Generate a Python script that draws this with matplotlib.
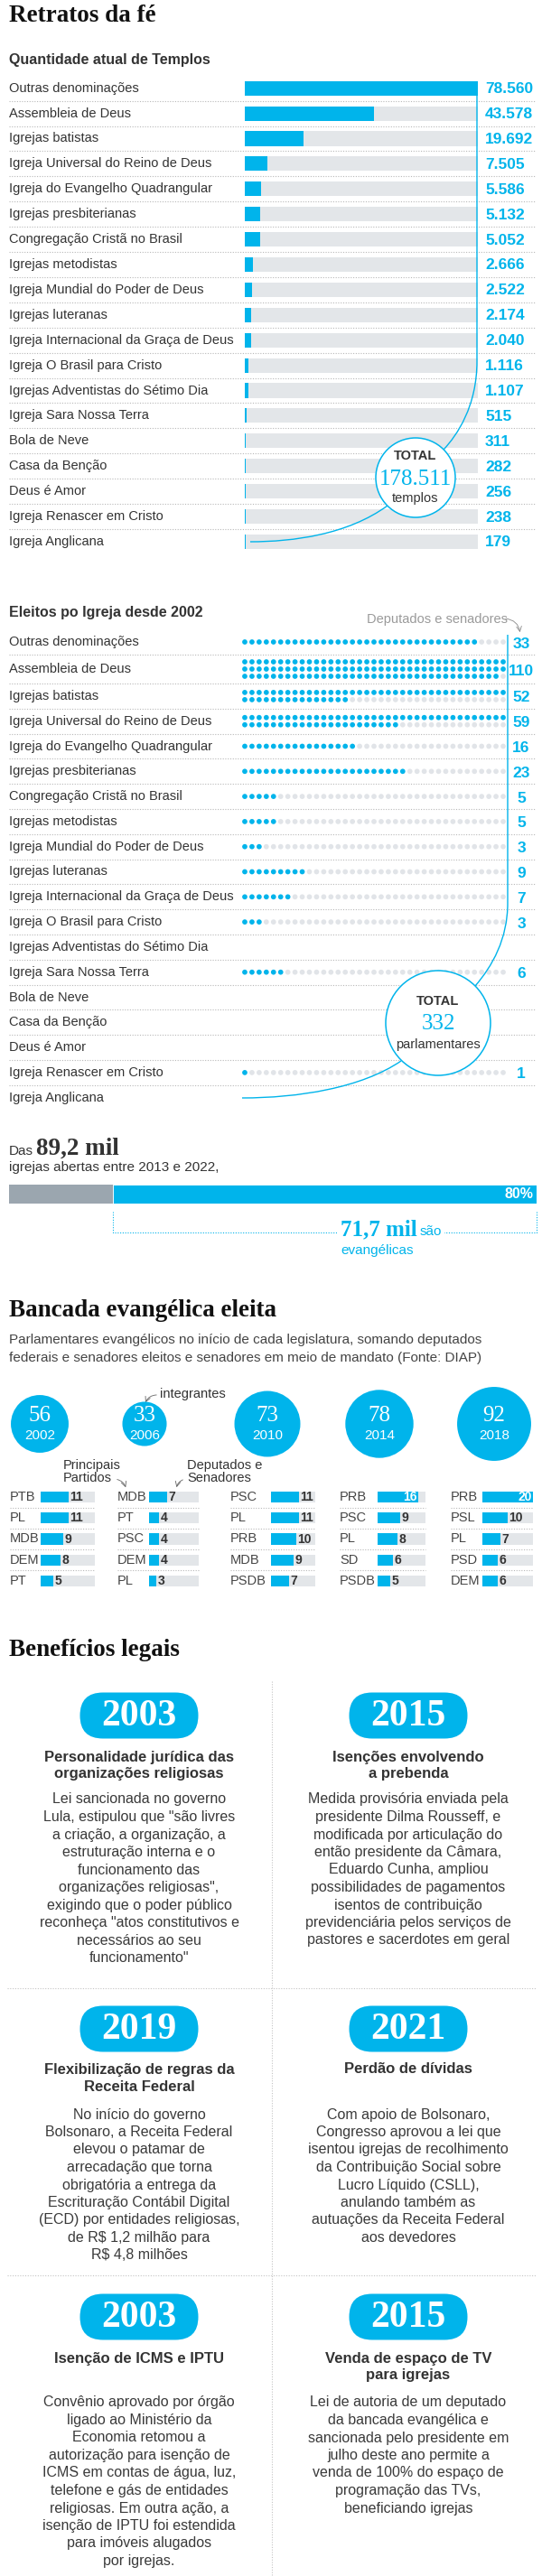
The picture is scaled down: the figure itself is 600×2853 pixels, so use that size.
import numpy as np
import matplotlib
matplotlib.use('agg')
import matplotlib.pyplot as plt
from matplotlib import transforms
from matplotlib.patches import Circle, FancyBboxPatch, PathPatch
from matplotlib.path import Path

# dados
igrejas = ['Outras denominações', 'Assembleia de Deus', 'Igrejas batistas',
           'Igreja Universal do Reino de Deus', 'Igreja do Evangelho Quadrangular',
           'Igrejas presbiterianas', 'Congregação Cristã no Brasil', 'Igrejas metodistas',
           'Igreja Mundial do Poder de Deus', 'Igrejas luteranas',
           'Igreja Internacional da Graça de Deus', 'Igreja O Brasil para Cristo',
           'Igrejas Adventistas do Sétimo Dia', 'Igreja Sara Nossa Terra', 'Bola de Neve',
           'Casa da Benção', 'Deus é Amor', 'Igreja Renascer em Cristo', 'Igreja Anglicana']
templos = [78560, 43578, 19692, 7505, 5586, 5132, 5052, 2666, 2522, 2174, 2040,
           1116, 1107, 515, 311, 282, 256, 238, 179]
eleitos = [33, 110, 52, 59, 16, 23, 5, 5, 3, 9, 7, 3, 0, 6, 0, 0, 0, 1, 0]

abertas_mil = 89.2
evangelicas_mil = 71.7

anos = ['2002', '2006', '2010', '2014', '2018']
bancada = [56, 33, 73, 78, 92]
partidos = [['PTB', 'PL', 'MDB', 'DEM', 'PT'],
            ['MDB', 'PT', 'PSC', 'DEM', 'PL'],
            ['PSC', 'PL', 'PRB', 'MDB', 'PSDB'],
            ['PRB', 'PSC', 'PL', 'SD', 'PSDB'],
            ['PRB', 'PSL', 'PL', 'PSD', 'DEM']]
cadeiras = [[11, 11, 9, 8, 5],
            [7, 4, 4, 4, 3],
            [11, 11, 10, 9, 7],
            [16, 9, 8, 6, 5],
            [20, 10, 7, 6, 6]]

ben_anos = ['2003', '2015', '2019', '2021', '2003', '2015']
ben_titulos = ['Personalidade jurídica das\norganizações religiosas',
               'Isenções envolvendo\na prebenda',
               'Flexibilização de regras da\nReceita Federal',
               'Perdão de dívidas',
               'Isenção de ICMS e IPTU',
               'Venda de espaço de TV\npara igrejas']
ben_textos = [
    'Lei sancionada no governo\nLula, estipulou que "são livres\na criação, a organização, a\n'
    'estruturação interna e o\nfuncionamento das\norganizações religiosas",\n'
    'exigindo que o poder público\nreconheça "atos constitutivos e\nnecessários ao seu\nfuncionamento"',
    'Medida provisória enviada pela\npresidente Dilma Rousseff, e\nmodificada por articulação do\n'
    'então presidente da Câmara,\nEduardo Cunha, ampliou\npossibilidades de pagamentos\n'
    'isentos de contribuição\nprevidenciária pelos serviços de\npastores e sacerdotes em geral',
    'No início do governo\nBolsonaro, a Receita Federal\nelevou o patamar de\narrecadação que torna\n'
    'obrigatória a entrega da\nEscrituração Contábil Digital\n(ECD) por entidades religiosas,\n'
    'de R$ 1,2 milhão para\nR$ 4,8 milhões',
    'Com apoio de Bolsonaro,\nCongresso aprovou a lei que\nisentou igrejas de recolhimento\n'
    'da Contribuição Social sobre\nLucro Líquido (CSLL),\nanulando também as\n'
    'autuações da Receita Federal\naos devedores',
    'Convênio aprovado por órgão\nligado ao Ministério da\nEconomia retomou a\n'
    'autorização para isenção de\nICMS em contas de água, luz,\ntelefone e gás de entidades\n'
    'religiosas. Em outra ação, a\nisenção de IPTU foi estendida\npara imóveis alugados\npor igrejas.',
    'Lei de autoria de um deputado\nda bancada evangélica e\nsancionada pelo presidente em\n'
    'julho deste ano permite a\nvenda de 100% do espaço de\nprogramação das TVs,\nbeneficiando igrejas',
]

W, H = 600, 2853
BLUE = '#00b4eb'
GREY = '#e3e6e9'
DARK = '#333333'
SANS = ['Liberation Sans', 'DejaVu Sans']
SERIF = ['Liberation Serif', 'DejaVu Serif']
plt.rcParams['font.family'] = SANS

fig = plt.figure(figsize=(W / 100, H / 100), dpi=100)
fig.patch.set_facecolor('white')


def px_axes(x0, y0, x1, y1, z=1):
    ax = fig.add_axes([x0 / W, 1 - y1 / H, (x1 - x0) / W, (y1 - y0) / H], zorder=z)
    ax.set_axis_off()
    ax.patch.set_alpha(0)
    return ax


ov = px_axes(0, 0, W, H, z=5)
ov.set_xlim(0, W)
ov.set_ylim(H, 0)
rend = fig.canvas.get_renderer()


def fmt(v):
    return f'{v:,}'.replace(',', '.')


def dotted(x0, x1, y, color='#b8b8b8'):
    ov.plot([x0, x1], [y, y], color=color, lw=0.8, ls=(0, (1, 1.5)))


def curve(pts):
    codes = [Path.MOVETO] + [Path.LINETO] * (len(pts) - 4) + [Path.CURVE4] * 3
    ov.add_patch(PathPatch(Path(pts, codes), fill=False, ec=BLUE, lw=1.0, zorder=6))


def right_of(t):
    return t.get_window_extent(renderer=rend).x1


# ---------- Retratos da fé ----------
ov.text(10, 18, 'Retratos da fé', family=SERIF, weight='bold', fontsize=19.5,
        va='center', color='#111111')
ov.text(10, 67, 'Quantidade atual de Templos', weight='bold', fontsize=11.5,
        va='center', color=DARK)

n = len(igrejas)
t_top, t_row = 83.75, 27.9
ax1 = px_axes(271, t_top, 529, t_top + n * t_row)
ax1.set_xlim(0, max(templos))
ax1.set_ylim(n - 0.5, -0.5)
ypos = np.arange(n)
ax1.barh(ypos, [max(templos)] * n, height=0.58, color=GREY)
ax1.barh(ypos, templos, height=0.58, color=BLUE)
for i, (nome, v) in enumerate(zip(igrejas, templos)):
    yc = t_top + (i + 0.5) * t_row
    ov.text(10, yc, nome, fontsize=10.5, va='center', color=DARK)
    ov.text(537, yc + 1, fmt(v), fontsize=12.5, weight='bold', color=BLUE, va='center')
    if i < n - 1:
        dotted(10, 592, t_top + (i + 1) * t_row)

cx, cy, r = 460, 529, 44
curve([(528, t_top + 0.5 * t_row + 8), (528, 400), (528, 450), (506, 482), (491, 498)])
curve([(429, 560), (385, 592), (325, 600), (277, 600)])
ov.add_patch(Circle((cx, cy), r, fc='white', ec=BLUE, lw=1.1, zorder=7))
ov.text(cx, cy - 24, 'TOTAL', weight='bold', fontsize=10.5, ha='center', va='center', color=DARK, zorder=8)
ov.text(cx, cy + 2, fmt(sum(templos)), family=SERIF, fontsize=18, ha='center', va='center',
        color=BLUE, zorder=8)
ov.text(cx, cy + 23, 'templos', fontsize=10.5, ha='center', va='center', color=DARK, zorder=8)

# ---------- Eleitos por igreja ----------
ov.text(10, 678, 'Eleitos po Igreja desde 2002', weight='bold', fontsize=11.5,
        va='center', color=DARK)
ov.text(406, 686, 'Deputados e senadores', fontsize=10.5, va='center', color='#9a9a9a')
ov.annotate('', xy=(576, 703), xytext=(557, 685),
            arrowprops=dict(arrowstyle='->', color='#888888', lw=0.6,
                            connectionstyle='arc3,rad=-0.45'))

COLS = 37
alturas = np.array([28, 32] + [27.8] * (n - 2))
topos = 697 + np.concatenate([[0], np.cumsum(alturas)])
centros = topos[:-1] + alturas / 2
ax2 = px_axes(267, topos[0], 561, topos[-1])
ax2.set_xlim(-0.5, COLS - 0.5)
ax2.set_ylim(topos[-1], topos[0])
xs = np.arange(COLS)
for i, v in enumerate(eleitos):
    if v == 0:
        continue
    linhas = int(np.ceil(v / COLS))
    for k in range(linhas):
        yk = centros[i] + (k - (linhas - 1) / 2) * 8
        cheios = min(COLS, v - k * COLS)
        cores = [BLUE if j < cheios else '#e1e4e8' for j in xs]
        ax2.scatter(xs, [yk] * COLS, s=17, c=cores, linewidths=0)

for i, nome in enumerate(igrejas):
    ov.text(10, centros[i], nome, fontsize=10.5, va='center', color=DARK)
    if eleitos[i]:
        ov.text(577, centros[i] + 2, str(eleitos[i]), fontsize=12.5, weight='bold',
                ha='center', va='center', color=BLUE)
    if i < n - 1:
        dotted(10, 592, topos[i + 1])

cx, cy, r = 485, 1133, 58
curve([(562, 703), (562, 1000), (562, 1040), (545, 1070), (526, 1092)])
curve([(444, 1175), (400, 1205), (330, 1216), (268, 1216)])
ov.add_patch(Circle((cx, cy), r, fc='white', ec=BLUE, lw=1.1, zorder=7))
ov.text(cx, cy - 24, 'TOTAL', weight='bold', fontsize=10.5, ha='center', va='center', color=DARK, zorder=8)
ov.text(cx, cy + 1, str(sum(eleitos)), family=SERIF, fontsize=18, ha='center', va='center',
        color=BLUE, zorder=8)
ov.text(cx, cy + 24, 'parlamentares', fontsize=10.5, ha='center', va='center', color=DARK, zorder=8)

# ---------- Igrejas abertas ----------
t = ov.text(10, 1279, 'Das', fontsize=11, va='baseline', color=DARK)
ov.text(right_of(t) + 3, 1279, f'{abertas_mil:.1f} mil'.replace('.', ','), family=SERIF,
        weight='bold', fontsize=19.5, va='baseline', color=DARK)
ov.text(10, 1297, 'igrejas abertas entre 2013 e 2022,', fontsize=11, va='baseline', color=DARK)

ax3 = px_axes(10, 1312, 594, 1333)
ax3.set_xlim(0, abertas_mil)
ax3.set_ylim(-0.5, 0.5)
outras = abertas_mil - evangelicas_mil
ax3.barh(0, outras, height=1, color='#9ba6af')
ax3.barh(0, evangelicas_mil, left=outras, height=1, color=BLUE, edgecolor='white', linewidth=0.6)
ax3.text(abertas_mil - 0.6, 0, f'{evangelicas_mil / abertas_mil:.0%}', ha='right', va='center',
         weight='bold', fontsize=11.5, color='white')
br = transforms.blended_transform_factory(ax3.transData, ov.transData)
ov.plot([outras, outras, abertas_mil, abertas_mil], [1342, 1365, 1365, 1342], transform=br,
        color=BLUE, lw=0.8, ls=(0, (1, 1.5)), clip_on=False)
t = ov.text(377, 1362, f'{evangelicas_mil:.1f} mil'.replace('.', ','), family=SERIF,
            weight='bold', fontsize=18, va='baseline', color=BLUE,
            bbox=dict(fc='white', ec='none', pad=3), zorder=8)
t.set_va('center')
ov.text(right_of(t) + 3, 1364, 'são', fontsize=11, va='center', color=BLUE,
        bbox=dict(fc='white', ec='none', pad=2), zorder=8)
ov.text(377, 1385, 'evangélicas', fontsize=11, va='center', color=BLUE)

# ---------- Bancada evangélica ----------
ov.text(10, 1452, 'Bancada evangélica eleita', family=SERIF, weight='bold', fontsize=19.5,
        va='center', color='#111111')
ov.text(10, 1484, 'Parlamentares evangélicos no início de cada legislatura, somando deputados',
        fontsize=11, va='center', color='#444444')
ov.text(10, 1504, 'federais e senadores eleitos e senadores em meio de mandato (Fonte: DIAP)',
        fontsize=11, va='center', color='#444444')

circ_x = [44, 160, 296, 420, 547]
ov.scatter(circ_x, [1577] * 5, s=37.8 * np.array(bancada), color=BLUE, linewidths=0, zorder=6)
for x, v, a in zip(circ_x, bancada, anos):
    ov.text(x, 1568, str(v), family=SERIF, fontsize=18, ha='center', va='center',
            color='white', zorder=7)
    ov.text(x, 1590, a, fontsize=11, ha='center', va='center', color='white', zorder=7)
ov.text(177, 1544, 'integrantes', fontsize=10.5, va='center', color=DARK)
ov.annotate('', xy=(160, 1556), xytext=(176, 1545),
            arrowprops=dict(arrowstyle='->', color='#666666', lw=0.6,
                            connectionstyle='arc3,rad=0.4'))
ov.text(70, 1630, 'Principais\nPartidos', fontsize=10.5, va='center', color=DARK, linespacing=1.0)
ov.annotate('', xy=(140, 1650), xytext=(127, 1638),
            arrowprops=dict(arrowstyle='->', color='#666666', lw=0.6,
                            connectionstyle='arc3,rad=-0.35'))
ov.text(207, 1630, 'Deputados e\nSenadores', fontsize=10.5, va='center', color=DARK, linespacing=1.0)
ov.annotate('', xy=(195, 1650), xytext=(205, 1638),
            arrowprops=dict(arrowstyle='->', color='#666666', lw=0.6,
                            connectionstyle='arc3,rad=0.35'))

lab_x = [11, 130, 255, 376, 499]
bar_x = [45, 165, 300, 418, 534]
bar_w = [60, 55, 49, 53, 56]
px_un = 2.8
p_top, p_row = 1646.5, 23.2
for c in range(5):
    axp = px_axes(bar_x[c], p_top, bar_x[c] + bar_w[c], p_top + 5 * p_row)
    lim = bar_w[c] / px_un
    axp.set_xlim(0, lim)
    axp.set_ylim(4.5, -0.5)
    axp.barh(range(5), [lim] * 5, height=0.52, color=GREY)
    axp.barh(range(5), cadeiras[c], height=0.52, color=BLUE)
    for k, (p, v) in enumerate(zip(partidos[c], cadeiras[c])):
        yc = p_top + (k + 0.5) * p_row
        ov.text(lab_x[c], yc, p, fontsize=10.5, va='center', color='#444444')
        if (lim - v) * px_un < 14:
            axp.text(v - 0.3, k, str(v), ha='right', va='center', weight='bold',
                     fontsize=10, color='white')
        else:
            axp.text(v + 0.5, k, str(v), ha='left', va='center', weight='bold',
                     fontsize=10, color=DARK)
        if k < 4:
            dotted(lab_x[c], bar_x[c] + bar_w[c], p_top + (k + 1) * p_row)

# ---------- Benefícios legais ----------
ov.text(10, 1827, 'Benefícios legais', family=SERIF, weight='bold', fontsize=19.5,
        va='center', color='#111111')
ov.plot([301, 301], [1862, H], color='#c4c4c4', lw=0.8, ls=(0, (1, 1.5)))
dotted(8, 594, 2202, '#c4c4c4')
dotted(8, 594, 2520, '#c4c4c4')

col_cx = [154, 452]
pill_y = [1900, 2247, 2566]
tit_y = [1946, 2292, 2612]
txt_y = [1993, 2342, 2661]
for i, (ano, tit, txt) in enumerate(zip(ben_anos, ben_titulos, ben_textos)):
    x = col_cx[i % 2]
    row = i // 2
    ov.add_patch(FancyBboxPatch((x - 65.5, pill_y[row] - 25.5), 131, 51,
                                boxstyle='round,pad=0,rounding_size=25.5',
                                fc=BLUE, ec='none', zorder=6))
    ov.text(x, pill_y[row] + 1, ano, family=SERIF, weight='bold', fontsize=30,
            ha='center', va='center', color='white', zorder=7)
    for k, linha in enumerate(tit.split('\n')):
        ov.text(x, tit_y[row] + k * 19, linha, weight='bold', fontsize=12,
                ha='center', va='center', color=DARK)
    for k, linha in enumerate(txt.split('\n')):
        ov.text(x, txt_y[row] + k * 19.5, linha, fontsize=11.5,
                ha='center', va='center', color='#3a3a3a')

fig.savefig('out.png', dpi=100, facecolor='white')
